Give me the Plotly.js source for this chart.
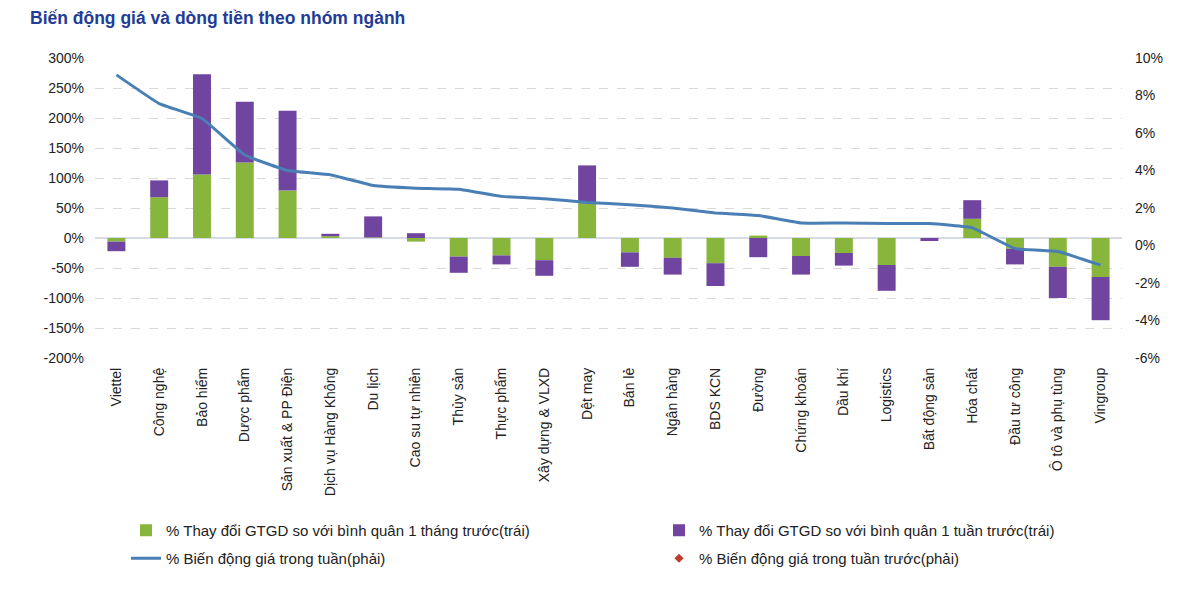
<!DOCTYPE html>
<html>
<head>
<meta charset="utf-8">
<script src="https://cdn.plot.ly/plotly-3.0.1.min.js"></script>
<style>
html,body{margin:0;padding:0;background:#fff;}
#chart{width:1200px;height:596px;}
</style>
</head>
<body>
<div id="chart"></div>
<script>
const categories = ["Viettel","Công nghệ","Bảo hiểm","Dược phẩm","Sản xuất & PP Điện","Dịch vụ Hàng Không","Du lịch","Cao su tự nhiên","Thủy sản","Thực phẩm","Xây dựng & VLXD","Dệt may","Bán lẻ","Ngân hàng","BDS KCN","Đường","Chứng khoán","Dầu khí","Logistics","Bất động sản","Hóa chất","Đầu tư công","Ô tô và phụ tùng","Vingroup"];
const monthChange = [-6, 68, 106, 126, 79, 3, 1, -6, -31, -29, -37, 58, -24, -33, -42, 4, -30, -25, -45, 0, 32, -18, -48, -65];
const weekChange = [-16, 28, 167, 101, 133, 4, 35, 8, -27, -15, -26, 63, -24, -28, -38, -32, -31, -21, -43, -5, 31, -26, -52, -72];
const priceWeek = [9.1, 7.57, 6.77, 4.83, 4.0, 3.77, 3.2, 3.06, 3.0, 2.62, 2.5, 2.3, 2.17, 2.0, 1.73, 1.6, 1.2, 1.2, 1.17, 1.17, 0.94, -0.16, -0.32, -1.05];
const pricePrevWeek = categories.map(() => null);

const leftTicks = [-200,-150,-100,-50,0,50,100,150,200,250,300];
const rightTicks = [-6,-4,-2,0,2,4,6,8,10];

const traces = [
  {type:'bar', name:'% Thay đổi GTGD so với bình quân 1 tháng trước(trái)', x:categories, y:monthChange,
   marker:{color:'#88b63d'}, yaxis:'y', legend:'legend'},
  {type:'bar', name:'% Thay đổi GTGD so với bình quân 1 tuần trước(trái)', x:categories, y:weekChange,
   marker:{color:'#6f459f'}, yaxis:'y', legend:'legend2'},
  {type:'scatter', mode:'lines', name:'% Biến động giá trong tuần(phải)', x:categories, y:priceWeek,
   line:{color:'#4a7fb5', width:3, shape:'spline', smoothing:0.3}, yaxis:'y2', legend:'legend3'},
  {type:'scatter', mode:'markers', name:'% Biến động giá trong tuần trước(phải)', x:categories, y:pricePrevWeek,
   marker:{symbol:'diamond', color:'#c0392b', size:7}, yaxis:'y2', legend:'legend4'}
];

const legendFont = {family:'Liberation Sans, Arial, sans-serif', size:15, color:'#222'};
function leg(xpx, ypx) {
  return {orientation:'h', xref:'container', yref:'container', x:xpx/1200, xanchor:'left',
          y:1-ypx/596, yanchor:'top', font:legendFont, itemwidth:30, bgcolor:'rgba(0,0,0,0)'};
}
const layout = {
  width:1200, height:596,
  paper_bgcolor:'#fff', plot_bgcolor:'#fff',
  margin:{l:95, r:78, t:58, b:238},
  font:{family:'Liberation Sans, Arial, sans-serif', size:14, color:'#222'},
  title:{text:'<b>Biến động giá và dòng tiền theo nhóm ngành</b>', x:0.025, xanchor:'left', xref:'container',
         y:0.97, yanchor:'middle', yref:'container',
         font:{family:'Liberation Sans, Arial, sans-serif', size:17.5, color:'#1f3c96'}},
  barmode:'relative', bargap:0.58,
  showlegend:true,
  legend:leg(126, 514),
  legend2:leg(659, 514),
  legend3:leg(126, 542),
  legend4:leg(659, 542),
  xaxis:{type:'category', range:[-0.5, categories.length-0.5], tickangle:-90, showgrid:false, showline:false, ticks:'',
         ticklabelstandoff:6, tickfont:{size:14, color:'#222'}, automargin:false},
  yaxis:{range:[-200,300], tickvals:leftTicks, ticktext:leftTicks.map(v=>v+'%'), showgrid:true,
         gridcolor:'#d9d9d9', griddash:'dash', gridwidth:1, zeroline:true, zerolinecolor:'#d6dbe6', zerolinewidth:1.5,
         showline:false, ticks:'', ticklabelstandoff:10, tickfont:{size:14, color:'#222'}, automargin:false},
  yaxis2:{range:[-6,10], tickvals:rightTicks, ticktext:rightTicks.map(v=>v+'%'), overlaying:'y', side:'right',
          showgrid:false, zeroline:false, showline:false, ticks:'', ticklabelstandoff:12,
          tickfont:{size:14, color:'#222'}, automargin:false}
};

Plotly.newPlot('chart', traces, layout, {displayModeBar:false, staticPlot:true});
</script>
</body>
</html>
